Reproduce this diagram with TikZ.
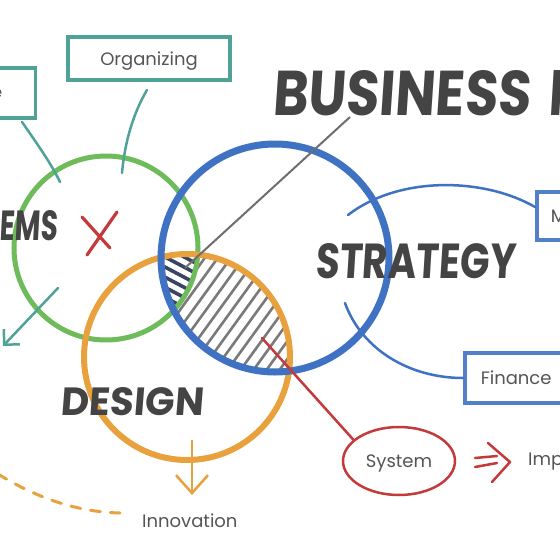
\documentclass[tikz,border=0pt]{standalone}
\usepackage{fontspec}
\setmainfont{Poppins}
\newfontfamily\brush{Poppins}[FakeSlant=0.08]
\usetikzlibrary{arrows.meta,shapes.geometric,calc}
\definecolor{cgreen}{HTML}{6DBB5A}
\definecolor{cblue}{HTML}{3F72C2}
\definecolor{corange}{HTML}{E8A13C}
\definecolor{cteal}{HTML}{4FA396}
\definecolor{cred}{HTML}{C43A3A}
\definecolor{ctext}{HTML}{555555}
\definecolor{chead}{HTML}{444444}
\definecolor{cnavy}{HTML}{394563}
\definecolor{chatch}{HTML}{7A7A7A}
\newcommand\headtxt[3]{\resizebox{#1}{#2}{\brush\bfseries #3}}
\tikzset{
  head/.style={inner sep=0pt, text=chead},
  lbl/.style={inner sep=0pt, text=ctext, font=\fontsize{18}{20}\selectfont},
  ring/.style={circle, inner sep=0pt, outer sep=0pt},
  tealbox/.style={draw=cteal, line width=3.5pt, text=ctext, text depth=0pt, font=\fontsize{18}{20}\selectfont},
  bluebox/.style={draw=cblue!90, line width=3.5pt, text=ctext, text depth=0pt, font=\fontsize{18}{20}\selectfont},
  tealline/.style={draw=cteal, line width=2.5pt, line cap=round},
  blueline/.style={draw=cblue, line width=2.5pt, line cap=round},
  redline/.style={draw=cred, line width=2.5pt, line cap=round},
  hatchline/.style={draw=chatch, line width=2.6pt, line cap=round},
  navyline/.style={draw=cnavy, line width=3.6pt, line cap=round},
}
\begin{document}
\begin{tikzpicture}[x=1pt,y=-1pt]
\useasboundingbox (0,0) rectangle (560,560);
\clip (0,0) rectangle (560,560);
\fill[white] (0,0) rectangle (560,560);

% hatch in blue & orange
\begin{scope}
  \clip (275,258) circle (114);
  \clip (187,357) circle (103);
  \foreach \i in {-14,...,14} {
    \draw[hatchline] ($(232,310)+(\i*13,0)$) ++(-90,124) -- ++(180,-248);
  }
\end{scope}
% triple region
\begin{scope}
  \clip (106,248) circle (92);
  \clip (275,258) circle (114);
  \fill[white] (187,357) circle (103);
  \clip (187,357) circle (103);
  \foreach \i in {-5,...,5} {
    \draw[navyline] ($(180,275)+(\i*-4.2,\i*7.9)$) ++(-53,-28) -- ++(106,56);
  }
\end{scope}

% circles
\node[ring, draw=cgreen, line width=5pt, minimum size=184pt] (green) at (106,248) {};
\node[ring, draw=corange, line width=6pt, minimum size=206pt] (orange) at (187,357) {};
\node[ring, draw=cblue, line width=7pt, minimum size=228pt] (blue) at (275,258) {};

% headings
\node[head, anchor=base west] (business) at (272,115) {\headtxt{258pt}{45pt}{BUSINESS}};
\node[head, anchor=base west] (plan) at (548,115) {\headtxt{30pt}{45pt}{P}};
\node[head, anchor=base west] (strategy) at (315,278) {\headtxt{200pt}{35pt}{STRATEGY}};
\node[head, anchor=base west] (design) at (60,415) {\headtxt{143pt}{28pt}{DESIGN}};
\node[head, anchor=base east] (systems) at (58,240) {\headtxt{58pt}{30pt}{EMS}};

% boxes
\node[tealbox, minimum width=162pt, minimum height=43pt, inner sep=0pt] (organizing) at (149,58.5) {Organizing};
\node[tealbox, anchor=east, minimum height=50pt, text width=20pt, align=right, inner xsep=33pt] (lbox) at (37,93) {e};
\node[bluebox, anchor=west, minimum height=48pt, text width=60pt, align=left, inner xsep=14pt] (mbox) at (535,216) {M};
\node[bluebox, anchor=west, minimum height=50pt, text width=100pt, align=left, inner xsep=16pt] (finance) at (463,378) {Finance};

% labels
\node[lbl, anchor=base west] (innovation) at (142,527) {Innovation};
\node[lbl, anchor=base west] (imp) at (528,465) {Imp};
\node[ellipse, draw=cred, line width=2.5pt, minimum width=112pt, minimum height=68pt, inner sep=0pt, text=ctext, text depth=0pt, font=\fontsize{18}{20}\selectfont] (system) at (399,461) {System};

% teal connectors
\coordinate (l1s) at (22,122);
\coordinate (l1e) at (60,182);
\draw[tealline] (l1s) .. controls (38,145) and (52,165) .. (l1e);
\coordinate (o1s) at (147,90);
\coordinate (o1e) at (122,173);
\draw[tealline] (o1s) .. controls (134,112) and (125,140) .. (o1e);
\coordinate (a1s) at (58,288);
\coordinate (a1e) at (3,346);
\draw[tealline, -{Straight Barb[length=11pt,width=22pt]}] (a1s) -- (a1e);

% red X
\coordinate (x1a) at (82,217);
\coordinate (x1b) at (110,248);
\coordinate (x2a) at (117,212);
\coordinate (x2b) at (87,255);
\draw[redline, line width=3.2pt] (x1a) -- (x1b);
\draw[redline, line width=3.2pt] (x2a) -- (x2b);

% gray line from title
\coordinate (g1s) at (350,117);
\coordinate (g1e) at (185,268);
\draw[draw=chatch!90!black, line width=2pt] (g1s) -- (g1e);

% blue arcs
\coordinate (b1s) at (348,215);
\coordinate (b2s) at (345,303);
\draw[blueline] (b1s) .. controls (400,175) and (485,178) .. (mbox.west |- 0,207);
\draw[blueline] (b2s) .. controls (362,350) and (410,378) .. (finance.west |- 0,378);

% red connector and arrow
\coordinate (r1s) at (262,338);
\draw[redline] (r1s) -- (system.155);
\coordinate (ra1) at (475,458);
\coordinate (ra2) at (497,456);
\coordinate (ra3) at (475,467);
\coordinate (ra4) at (497,463);
\coordinate (rv1) at (488,443);
\coordinate (rv2) at (510,462);
\coordinate (rv3) at (492,482);
\draw[redline] (ra1) -- (ra2);
\draw[redline] (ra3) -- (ra4);
\draw[redline, line join=round] (rv1) -- (rv2) -- (rv3);

% orange arrow and dashed curve
\coordinate (oa1) at (192,440);
\coordinate (oa2) at (192,495);
\draw[draw=corange, line width=2.5pt, -{Straight Barb[length=18pt,width=32pt]}] (oa1) -- (oa2);
\coordinate (od1) at (-2,474);
\coordinate (od2) at (120,513);
\draw[draw=corange, line width=3pt, dash pattern=on 10pt off 10pt, line cap=round] (od1) .. controls (40,500) and (80,512) .. (od2);
\end{tikzpicture}
\end{document}
